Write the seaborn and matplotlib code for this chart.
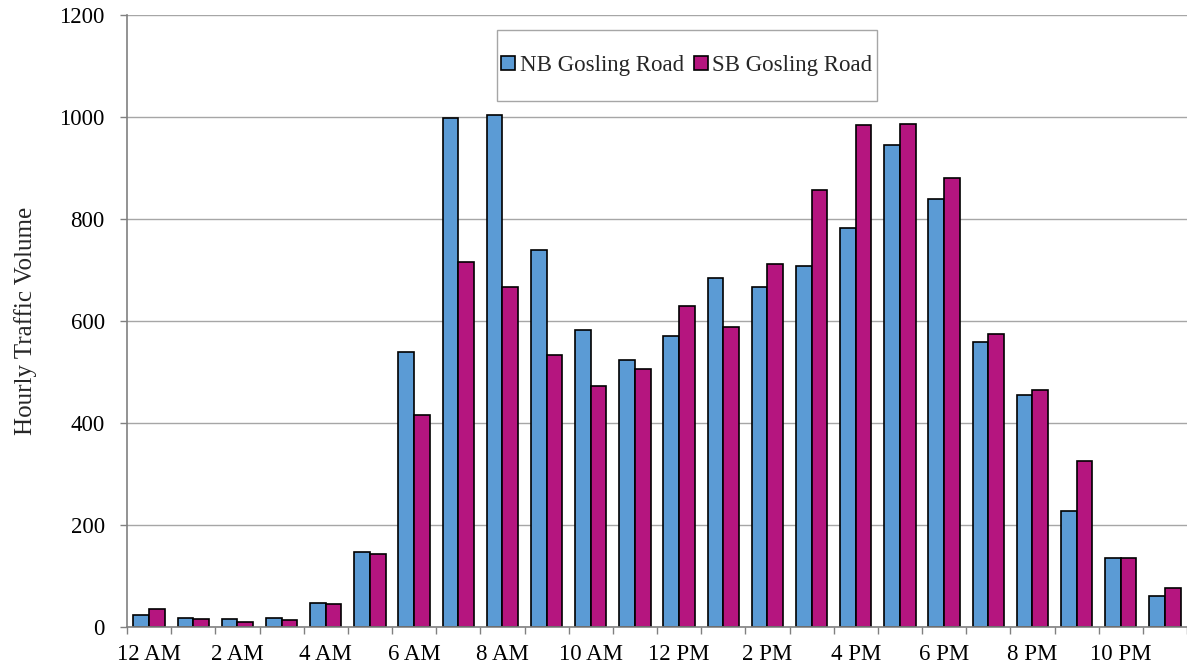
import matplotlib
matplotlib.use("Agg")
import matplotlib.pyplot as plt
import matplotlib.patches as mpatches
import seaborn as sns
import pandas as pd
import numpy as np

hours = ["12 AM", "1 AM", "2 AM", "3 AM", "4 AM", "5 AM", "6 AM", "7 AM", "8 AM", "9 AM",
         "10 AM", "11 AM", "12 PM", "1 PM", "2 PM", "3 PM", "4 PM", "5 PM", "6 PM", "7 PM",
         "8 PM", "9 PM", "10 PM", "11 PM"]
nb_values = [23, 18, 16, 18, 47, 148, 540, 998, 1004, 740, 582, 524, 571, 684, 666, 707,
             782, 946, 840, 559, 455, 227, 135, 60]
sb_values = [35, 15, 9, 13, 46, 143, 416, 716, 667, 534, 472, 506, 629, 589, 711, 856,
             984, 986, 881, 574, 464, 326, 135, 77]
series_names = ["NB Gosling Road", "SB Gosling Road"]
colors = ["#5B9BD5", "#B5157F"]

df = pd.DataFrame({
    "hour": hours * 2,
    "volume": nb_values + sb_values,
    "direction": [series_names[0]] * len(hours) + [series_names[1]] * len(hours),
})

sns.set_theme(style="white")
plt.rcParams["font.family"] = ["Liberation Serif", "DejaVu Serif"]

fig = plt.figure(figsize=(11.87, 6.68), dpi=100)
ax = fig.add_axes([127 / 1187, 1 - 627 / 668, 1 - 127 / 1187, (627 - 15) / 668])

sns.barplot(data=df, x="hour", y="volume", hue="direction", order=hours,
            hue_order=series_names, palette=colors, edgecolor="black", linewidth=1.2,
            width=0.71, saturation=1, ax=ax, legend=True)

ax.set_xlim(-0.5, len(hours) - 0.5)
ax.set_ylim(0, 1200)
ax.set_yticks(np.arange(0, 1201, 200))
ax.yaxis.grid(True, color="#A6A6A6", linewidth=1)
ax.set_axisbelow(True)

ax.set_xticks(np.arange(0, len(hours), 2))
ax.set_xticklabels(hours[::2])
ax.set_xticks(np.arange(-0.5, len(hours) + 0.5, 1), minor=True)
ax.tick_params(axis="x", which="major", length=0, labelsize=16.5, colors="black", pad=12)
ax.tick_params(axis="x", which="minor", length=5, width=1, color="#808080", direction="out")
ax.tick_params(axis="y", which="major", length=5, width=1, color="#808080", direction="out",
               labelsize=16.5, labelcolor="black", pad=11)
ax.tick_params(axis="both", which="both", bottom=True, left=True)

for side in ["top", "right"]:
    ax.spines[side].set_visible(False)
for side in ["left", "bottom"]:
    ax.spines[side].set_color("#808080")
    ax.spines[side].set_linewidth(1.2)

ax.set_xlabel("")
ax.set_ylabel("Hourly Traffic Volume", fontsize=18, labelpad=16)

# legend box frame (Excel-style rectangular box)
box_x0, box_w = 0.349, 0.3585
box_y0, box_h = 0.8595, 0.116
frame = mpatches.Rectangle((box_x0, box_y0), box_w, box_h, transform=ax.transAxes,
                           facecolor="white", edgecolor="#A6A6A6", linewidth=1, zorder=5)
ax.add_patch(frame)

leg = ax.legend(loc="center", bbox_to_anchor=(box_x0 + box_w / 2, box_y0 + box_h / 2),
                ncol=2, frameon=False, fontsize=16.5, handlelength=0.6,
                handleheight=0.6, handletextpad=0.2, columnspacing=0.45, borderpad=0,
                borderaxespad=0)
leg.set_zorder(6)

fig.savefig("out.png", dpi=100)
